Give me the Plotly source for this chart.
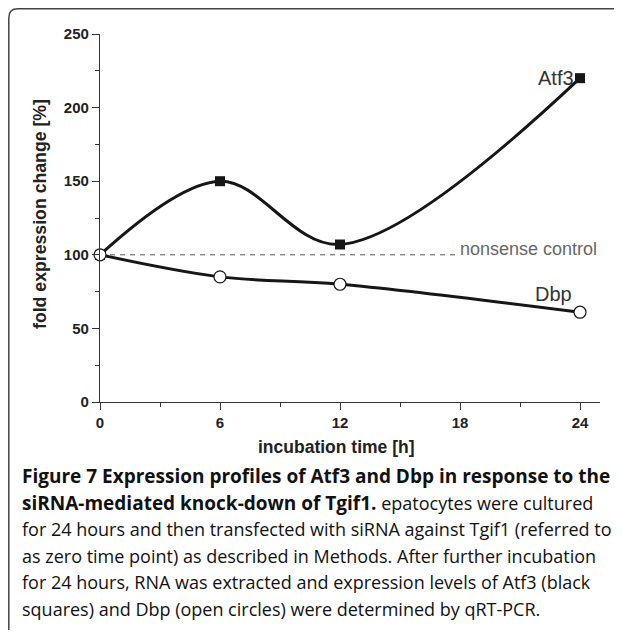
import plotly.graph_objects as go

# data
hours = [0, 6, 12, 24]
atf3 = [100, 150, 107, 220]
dbp = [100, 85, 80, 61]
control_level = 100
x_ticks = [0, 6, 12, 18, 24]
y_ticks = [0, 50, 100, 150, 200, 250]

caption_lines = [
    "<b>Figure 7 Expression profiles of Atf3 and Dbp in response to the</b>",
    "<b>siRNA-mediated knock-down of Tgif1.</b> epatocytes were cultured",
    "for 24 hours and then transfected with siRNA against Tgif1 (referred to",
    "as zero time point) as described in Methods. After further incubation",
    "for 24 hours, RNA was extracted and expression levels of Atf3 (black",
    "squares) and Dbp (open circles) were determined by qRT-PCR.",
]

OFF = 8  # page body margin
W, H = 622 - 2 * OFF, 638 - 2 * OFF
L, T = 100 - OFF, 34 - OFF
R, B = W - (600 - OFF), H - (402 - OFF)
pw, ph = W - L - R, H - T - B


def px(x):
    # reference pixel -> paper x
    return (x - OFF - L) / pw


def py(y):
    # reference pixel -> paper y
    return (H - B - (y - OFF)) / ph


fig = go.Figure()

fig.add_trace(go.Scatter(
    x=hours, y=atf3, mode="lines+markers",
    line=dict(color="#161616", width=3, shape="spline", smoothing=1.0),
    marker=dict(symbol="square", size=10, color="#161616"),
    cliponaxis=False, showlegend=False,
))
fig.add_trace(go.Scatter(
    x=hours, y=dbp, mode="lines+markers",
    line=dict(color="#161616", width=3, shape="spline", smoothing=1.0),
    marker=dict(symbol="circle", size=12, color="white",
                line=dict(color="#161616", width=1.2)),
    cliponaxis=False, showlegend=False,
))

# nonsense control reference
fig.add_shape(type="line", x0=0, x1=17.9, y0=control_level, y1=control_level,
              line=dict(color="#555", width=1, dash="5px,5px"), layer="below")

fig.add_annotation(x=17.9, y=control_level, text="nonsense control", showarrow=False,
                   xanchor="left", yanchor="bottom", yshift=-6,
                   font=dict(family="Liberation Sans", size=18, color="#666"))
fig.add_annotation(x=24, y=atf3[-1], text="Atf3", showarrow=False,
                   xanchor="right", yanchor="middle", xshift=-4,
                   font=dict(family="Liberation Sans", size=20, color="#333"))
fig.add_annotation(x=24, y=dbp[-1], text="Dbp", showarrow=False,
                   xanchor="right", yanchor="middle", xshift=-6, yshift=18,
                   font=dict(family="Liberation Sans", size=20, color="#333"))

# axis titles as annotations
fig.add_annotation(x=px(40), y=py(214), xref="paper", yref="paper",
                   xanchor="center", yanchor="middle",
                   text="<b>fold expression change [%]</b>", textangle=-90,
                   showarrow=False, font=dict(family="Liberation Sans", size=17.7, color="#222"))
fig.add_annotation(x=px(336), y=py(447), xref="paper", yref="paper",
                   xanchor="center", yanchor="middle",
                   text="<b>incubation time [h]</b>",
                   showarrow=False, font=dict(family="Liberation Sans", size=17.5, color="#222"))

# caption
for i, line in enumerate(caption_lines):
    line = line.replace("<b>", "<b style='font-size:19px'>")
    fig.add_annotation(x=px(20), y=py(476 + i * 26.5), xref="paper", yref="paper",
                       xanchor="left", yanchor="middle", text=line, showarrow=False,
                       font=dict(family="Open Sans", size=18, color="#111"))

# rounded frame (left and top edges of the figure panel)
r = 9
fx0, fy0, fx1, fy1 = 8.8, 8.8, 614, 630
path = (f"M {px(fx0)},{py(fy1)} L {px(fx0)},{py(fy0 + r)} "
        f"Q {px(fx0)},{py(fy0)} {px(fx0 + r)},{py(fy0)} L {px(fx1)},{py(fy0)}")
fig.add_shape(type="path", path=path, xref="paper", yref="paper",
              line=dict(color="#444", width=1.5), fillcolor="rgba(0,0,0,0)")

axis_font = dict(family="Liberation Sans", size=15, color="#222", weight="bold")
fig.update_xaxes(
    range=[0, 25], tickvals=x_ticks, ticks="outside", ticklen=7, tickwidth=1.3,
    tickcolor="#333", showline=True, linecolor="#333", linewidth=1.3,
    showgrid=False, zeroline=False, tickfont=axis_font,
    minor=dict(dtick=3, tick0=0, ticks="outside", ticklen=4, tickcolor="#333", showgrid=False),
)
fig.update_yaxes(
    range=[0, 250], tickvals=y_ticks, ticks="outside", ticklen=7, tickwidth=1.3,
    tickcolor="#333", showline=True, linecolor="#333", linewidth=1.3,
    showgrid=False, zeroline=False, tickfont=axis_font,
    minor=dict(dtick=25, tick0=0, ticks="outside", ticklen=4, tickcolor="#333", showgrid=False),
)

fig.update_layout(
    width=W, height=H, margin=dict(l=L, r=R, t=T, b=B),
    plot_bgcolor="white", paper_bgcolor="white",
)

fig.write_html("out.html", config={"displayModeBar": False})
